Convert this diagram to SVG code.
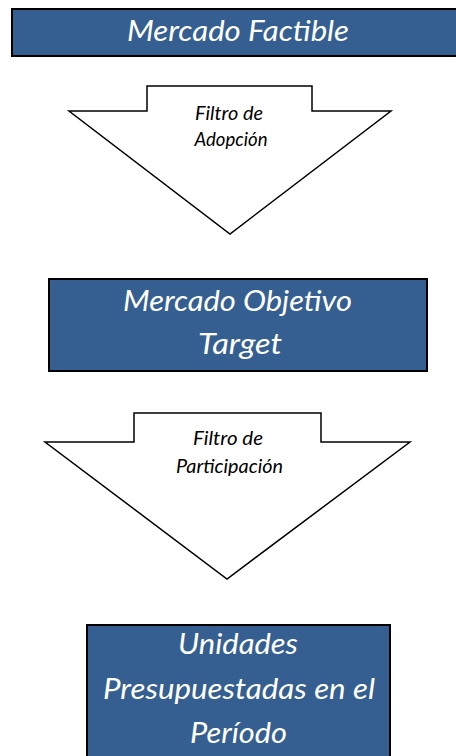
<svg xmlns="http://www.w3.org/2000/svg" width="456" height="756" viewBox="0 0 456 756">
<style>
.box{fill:#365F91;stroke:#000;stroke-width:2}
.arrow{fill:#fff;stroke:#000;stroke-width:1.5;stroke-linejoin:miter}
.big{font-family:Lato,"Open Sans","Liberation Sans",sans-serif;font-style:italic;font-size:29px;fill:#fff;text-anchor:middle}
.small{font-family:Lato,"Open Sans","Liberation Sans",sans-serif;font-style:italic;font-size:19.5px;fill:#000;text-anchor:middle}
</style>
<rect width="456" height="756" fill="#fff"/>
<g id="connectors">
<g id="filtro-adopcion">
<polygon class="arrow" points="147,86 312,86 312,111 391,111 230,234 69,111 147,111"/>
<text class="small" x="229" y="120" textLength="68" lengthAdjust="spacingAndGlyphs">Filtro de</text>
<text class="small" x="231" y="146" textLength="73" lengthAdjust="spacingAndGlyphs">Adopción</text>
</g>
<g id="filtro-participacion">
<polygon class="arrow" points="134,413 321,413 321,442 410,442 227,579 45,442 134,442"/>
<text class="small" x="228" y="445" textLength="70" lengthAdjust="spacingAndGlyphs">Filtro de</text>
<text class="small" x="229.5" y="473" textLength="107" lengthAdjust="spacingAndGlyphs">Participación</text>
</g>
</g>
<g id="mercado-factible">
<rect class="box" x="12" y="9" width="460" height="47"/>
<text class="big" x="238" y="41" textLength="222" lengthAdjust="spacingAndGlyphs">Mercado Factible</text>
</g>
<g id="mercado-objetivo">
<rect class="box" x="49" y="279" width="378" height="92"/>
<text class="big" x="237.5" y="311" textLength="229" lengthAdjust="spacingAndGlyphs">Mercado Objetivo</text>
<text class="big" x="240" y="354" textLength="84" lengthAdjust="spacingAndGlyphs">Target</text>
</g>
<g id="unidades">
<rect class="box" x="87" y="625" width="303" height="140"/>
<text class="big" x="238" y="654" textLength="120" lengthAdjust="spacingAndGlyphs">Unidades</text>
<text class="big" x="239" y="699" textLength="272" lengthAdjust="spacingAndGlyphs">Presupuestadas en el</text>
<text class="big" x="238.5" y="743" textLength="97" lengthAdjust="spacingAndGlyphs">Período</text>
</g>
</svg>
